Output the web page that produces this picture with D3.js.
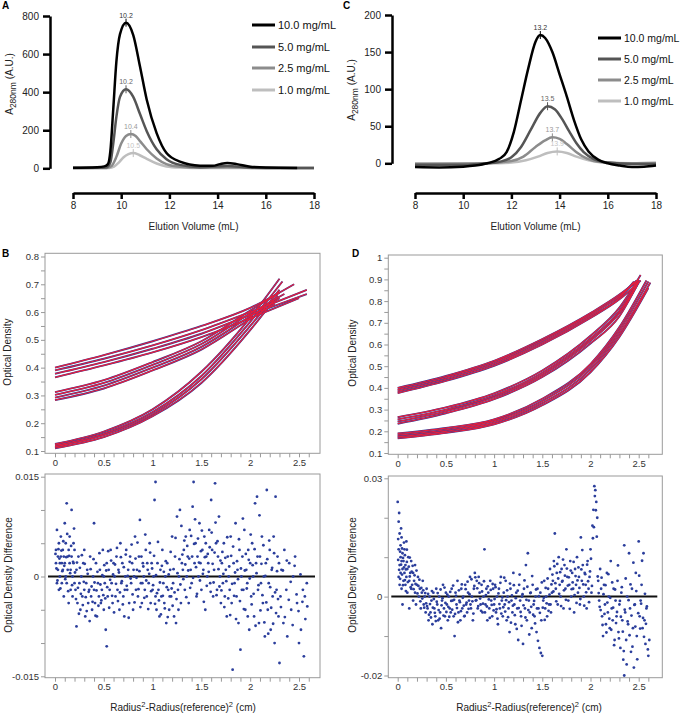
<!DOCTYPE html>
<html>
<head>
<meta charset="utf-8">
<script src="https://cdn.jsdelivr.net/npm/d3@7"></script>
<style>
  body { margin: 0; background: #fff; }
  svg { font-family: "Liberation Sans", Arial, Helvetica, sans-serif; }
</style>
</head>
<body>
<svg id="fig" width="683" height="714"></svg>
<script>
// Figure: SEC traces (A, C) and sedimentation-equilibrium fits with residuals (B, D)

// ---- data ----
const concLabels = ['10.0 mg/mL', '5.0 mg/mL', '2.5 mg/mL', '1.0 mg/mL'];
const elutionTicks = [8, 10, 12, 14, 16, 18];

// panel A: elution volume (mL) vs A280 (A.U.)
const traceA10 = [[8,3],[9,6],[9.3,10],[9.45,22],[9.55,90],[9.67,310],[9.8,560],[9.95,705],[10.2,765],[10.5,700],[10.78,535],[11.06,360],[11.47,185],[11.88,80],[12.44,35],[13.27,14],[13.8,13],[14.1,22],[14.4,28],[14.8,22],[15.3,10],[16,4],[17.3,2]];
const traceA5 = [[8,2],[9,3],[9.4,6],[9.55,30],[9.67,130],[9.8,270],[9.95,375],[10.2,415],[10.5,375],[10.78,285],[11.06,195],[11.47,100],[11.88,48],[12.44,18],[13.27,6],[14.4,12],[15.3,4],[16,2],[18,1]];
const traceA25 = [[8,1],[9.4,2],[9.6,12],[9.8,60],[10,130],[10.2,170],[10.4,180],[10.6,170],[10.8,140],[11.06,100],[11.47,52],[11.88,22],[12.44,8],[13.3,3],[14.4,5],[16,1],[18,1]];
const traceA1 = [[8,1],[9.5,1],[9.7,8],[9.9,30],[10.1,58],[10.3,74],[10.5,80],[10.75,70],[11.06,50],[11.47,25],[11.88,10],[12.44,4],[13.5,1],[18,1]];
const peaksA = [[10.2,765],[10.2,415],[10.4,180],[10.5,80]];
const peakLabelsA = ['10.2', '10.2', '10.4', '10.5'];
const yTicksA = [0, 200, 400, 600, 800];

// panel C
const traceC10 = [[8,-5],[9,-5.5],[10,-4.5],[10.5,-3],[11,0],[11.5,6],[11.8,15],[12.1,42],[12.4,85],[12.7,128],[13,164],[13.2,173],[13.4,169],[13.7,150],[14,120],[14.3,90],[14.6,58],[14.9,32],[15.2,16],[15.6,5],[16,0],[16.5,-3],[17,-5],[17.5,-4.5],[18,-3]];
const traceC5 = [[8,-2],[10,-2],[11,0],[11.5,2],[12,8],[12.4,22],[12.8,45],[13.2,68],[13.5,77],[13.8,73],[14.1,60],[14.4,43],[14.7,27],[15,15],[15.4,6],[16,1],[17,-1],[18,-1]];
const traceC25 = [[8,-1],[11,0],[12,3],[12.5,9],[13,22],[13.4,31],[13.7,35],[14,33],[14.3,26],[14.7,15],[15.1,7],[15.6,2],[16.5,0],[18,0]];
const traceC1 = [[8,0],[11,0],[12,1],[12.6,4],[13.1,9],[13.5,14],[13.9,16],[14.3,14],[14.7,9],[15.2,4],[15.8,1],[17,0],[18,1]];
const peaksC = [[13.2,173],[13.5,77],[13.7,35],[13.9,16]];
const peakLabelsC = ['13.2', '13.5', '13.7', '13.9'];
const yTicksC = [0, 50, 100, 150, 200];

// panel B: radius^2 - ref^2 (cm) vs optical density, scans per loading
const scansB = [
  [[0,0.400],[0.5,0.445],[1,0.495],[1.5,0.550],[2,0.615],[2.45,0.700]],
  [[0,0.390],[0.5,0.432],[1,0.480],[1.5,0.535],[2,0.600],[2.58,0.680]],
  [[0,0.378],[0.5,0.420],[1,0.468],[1.5,0.522],[2,0.590],[2.58,0.665]],
  [[0,0.365],[0.5,0.408],[1,0.455],[1.5,0.510],[2,0.578],[2.5,0.650]],
  [[0,0.312],[0.5,0.355],[1,0.420],[1.5,0.495],[2,0.605],[2.3,0.670]],
  [[0,0.302],[0.5,0.345],[1,0.410],[1.5,0.485],[2,0.595],[2.35,0.665]],
  [[0,0.292],[0.5,0.335],[1,0.400],[1.5,0.475],[2,0.585],[2.3,0.650]],
  [[0,0.283],[0.5,0.325],[1,0.390],[1.5,0.465],[2,0.575],[2.25,0.630]],
  [[0,0.125],[0.5,0.170],[1,0.250],[1.5,0.385],[2,0.580],[2.3,0.720]],
  [[0,0.120],[0.5,0.163],[1,0.240],[1.5,0.370],[2,0.565],[2.33,0.710]],
  [[0,0.115],[0.5,0.157],[1,0.232],[1.5,0.358],[2,0.550],[2.3,0.680]],
  [[0,0.110],[0.5,0.150],[1,0.225],[1.5,0.345],[2,0.535],[2.28,0.660]]
];
// panel D
const scansD = [
  [[0,0.400],[0.5,0.455],[1,0.525],[1.5,0.625],[2,0.745],[2.3,0.830],[2.5,0.900]],
  [[0,0.392],[0.5,0.448],[1,0.518],[1.5,0.617],[2,0.738],[2.3,0.822],[2.48,0.895]],
  [[0,0.384],[0.5,0.440],[1,0.510],[1.5,0.608],[2,0.730],[2.3,0.815],[2.45,0.890]],
  [[0,0.376],[0.5,0.432],[1,0.502],[1.5,0.600],[2,0.722],[2.3,0.808],[2.52,0.895]],
  [[0,0.265],[0.5,0.310],[1,0.375],[1.5,0.480],[2,0.640],[2.3,0.770],[2.52,0.920]],
  [[0,0.255],[0.5,0.300],[1,0.365],[1.5,0.470],[2,0.628],[2.3,0.755],[2.5,0.895]],
  [[0,0.245],[0.5,0.292],[1,0.357],[1.5,0.460],[2,0.617],[2.3,0.745],[2.5,0.885]],
  [[0,0.235],[0.5,0.283],[1,0.348],[1.5,0.450],[2,0.605],[2.3,0.730],[2.48,0.870]],
  [[0,0.190],[0.5,0.215],[1,0.255],[1.5,0.350],[2,0.510],[2.3,0.680],[2.58,0.895]],
  [[0,0.182],[0.5,0.207],[1,0.248],[1.5,0.340],[2,0.498],[2.3,0.665],[2.6,0.890]],
  [[0,0.175],[0.5,0.200],[1,0.240],[1.5,0.330],[2,0.485],[2.3,0.650],[2.62,0.885]],
  [[0,0.168],[0.5,0.193],[1,0.232],[1.5,0.320],[2,0.472],[2.3,0.635],[2.6,0.860]]
];

// residuals, in thousandths of OD
const residB = [
[0.01,2],[0.01,4],[0.02,-1],[0.02,7],[0.03,3],[0.03,1],[0.04,5],[0.04,-2],[0.05,2],[0.05,0],[0.06,3],[0.06,6],[0.07,-1],[0.07,2],[0.08,4],[0.08,1],[0.09,-3],[0.09,3],[0.1,2],[0.1,8],[0.11,0],[0.11,5],[0.12,11],[0.12,-1],[0.13,3],[0.13,1],[0.14,4],[0.14,-4],[0.15,2],[0.15,6],[0.16,-2],[0.16,1],[0.17,3],[0.17,10],[0.18,-3],[0.18,0],[0.19,5],[0.19,2],[0.2,-1],[0.2,4],
[0.21,-2],[0.22,-7.5],[0.22,1],[0.23,-4],[0.24,3],[0.25,-1],[0.26,-5],[0.27,0],[0.28,-3],[0.29,2],[0.3,-2],[0.3,4],[0.31,-6],[0.32,-1],[0.33,1],[0.34,-4],[0.35,-2],[0.36,3],[0.37,-3],[0.38,-5],[0.39,0],[0.4,8],[0.4,-2],[0.41,-4],[0.42,2],[0.43,-6],[0.44,-1],[0.45,-3],[0.46,1],[0.47,-4],[0.48,-2],[0.49,4],[0.5,-5],[0.5,0],
[0.51,-1],[0.52,-8],[0.53,-10.5],[0.53,2],[0.54,-3],[0.55,1],[0.56,-2],[0.57,4],[0.58,-1],[0.59,-4],[0.6,2],[0.61,0],[0.62,-3],[0.63,3],[0.64,-2],[0.65,1],[0.66,-5],[0.67,5],[0.68,-1],[0.69,2],[0.7,-3],[0.71,-6],[0.72,0],[0.73,4],[0.74,-2],[0.75,1],[0.76,-4],[0.77,3],[0.78,-1],[0.79,2],[0.8,-5],[0.81,0],[0.82,6],[0.83,-2],[0.84,1],[0.85,-3],[0.86,3],[0.87,8.5],[0.88,-1],[0.89,-4],[0.9,2],[0.91,0],[0.92,-2],[0.93,4],[0.94,-3],[0.95,1],[0.96,-1],[0.97,5],[0.98,-4],[0.99,2],[1.0,-2],
[1.01,0],[1.02,11.5],[1.03,14.2],[1.03,-3],[1.04,-5],[1.05,2],[1.06,-2],[1.07,-6],[1.08,1],[1.09,-3],[1.1,4],[1.11,-1],[1.12,-4],[1.13,0],[1.14,-7],[1.15,2],[1.16,-2],[1.17,-5],[1.18,1],[1.19,-3],[1.2,6],[1.21,-1],[1.22,-6],[1.23,3],[1.24,-7],[1.25,9],[1.26,-2],[1.27,0],[1.28,10],[1.29,-4],[1.3,2],
[1.31,1],[1.32,4],[1.33,-2],[1.34,6],[1.35,0],[1.36,3],[1.37,-4],[1.38,7],[1.39,1],[1.4,-1],[1.41,10.5],[1.42,14.2],[1.43,2],[1.44,5],[1.45,-3],[1.46,3],[1.47,0],[1.48,8],[1.49,2],[1.5,-2],[1.51,4],[1.52,1],[1.53,6],[1.54,-5],[1.55,3],[1.56,0],[1.57,2],[1.58,7],[1.59,-1],[1.6,11.5],[1.61,4],[1.62,-3],[1.63,1],[1.64,14],[1.65,5],[1.66,-2],[1.67,3],[1.68,9],[1.69,0],[1.7,-4],
[1.71,2],[1.72,-1],[1.73,5],[1.74,-3],[1.75,1],[1.76,-6],[1.77,3],[1.78,0],[1.79,-2],[1.8,6],[1.81,-4],[1.82,-14],[1.83,2],[1.84,-1],[1.85,8],[1.86,-3],[1.87,1],[1.88,-7],[1.89,4],[1.9,-11],[1.91,0],[1.92,3],[1.93,-2],[1.94,7],[1.95,-5],[1.96,1],[1.97,-1],[1.98,4],[1.99,-8],[2.0,2],[2.01,-3],[2.02,5],[2.03,0],[2.04,-6],[2.05,11],[2.06,2],[2.07,12],[2.08,-2],[2.09,-7],[2.1,3],[2.11,-1],[2.12,6],[2.13,-4],[2.14,0],[2.15,-9],[2.16,2],[2.17,13],[2.18,-5],[2.19,-1],[2.2,4],[2.21,-8],[2.22,1],[2.23,-3],[2.24,6],[2.25,-10],[2.26,12],[2.27,-2],[2.28,3],[2.29,-6],[2.3,-13],
[2.31,-3],[2.32,1],[2.34,-7],[2.35,4],[2.37,-2],[2.38,-9],[2.4,2],[2.42,-5],[2.44,0],[2.46,3],[2.48,-4],[2.5,-10],[2.52,-8],[2.54,-2],[2.55,-12],[2.56,-3],[2.58,-1]
];
const residB2 = [
[0.005,3.4],[0.015,1.2],[0.025,-0.6],[0.035,4.1],[0.045,2.7],[0.055,-1.8],[0.065,3.9],[0.075,0.8],[0.085,5.3],[0.095,1.6],[0.105,-0.4],[0.115,2.9],[0.125,6.4],[0.135,-2.2],[0.145,3.1],[0.155,0.5],[0.165,4.6],[0.175,-1.3],[0.185,2.2],[0.195,7.2],
[0.205,0.6],[0.215,-3.4],[0.225,2.1],[0.235,-1.7],[0.245,-5.6],[0.255,1.3],[0.265,-2.6],[0.275,3.2],[0.285,-4.3],[0.295,-0.8],[0.305,1.9],[0.315,-3.1],[0.325,-5.2],[0.335,0.4],[0.345,-2.3],[0.355,-6.7],[0.365,1.1],[0.375,-1.5],[0.385,-3.8],[0.395,2.6],[0.405,-0.9],[0.415,-5.9],[0.425,-2.1],[0.435,0.7],[0.445,-4.4],[0.455,3.5],[0.465,-1.2],[0.475,-3.6],[0.485,0.2],[0.495,-2.8],
[0.505,1.7],[0.515,-3.3],[0.525,0.9],[0.535,-1.6],[0.545,3.8],[0.555,-4.7],[0.565,-0.5],[0.575,2.4],[0.585,-2.9],[0.595,0.3],[0.605,-5.4],[0.615,1.8],[0.625,-1.1],[0.635,4.3],[0.645,-3.7],[0.655,0.6],[0.665,-2.4],[0.675,2.9],[0.685,-0.7],[0.695,-4.2],[0.705,1.4],[0.715,-2.0],[0.725,3.3],[0.735,-1.4],[0.745,0.1],[0.755,-6.2],[0.765,2.2],[0.775,-0.3],[0.785,4.8],[0.795,-2.7],[0.805,1.0],[0.815,-3.9],[0.825,2.7],[0.835,-0.2],[0.845,5.1],[0.855,-1.9],[0.865,0.8],[0.875,-4.6],[0.885,3.0],[0.895,-1.0],[0.905,1.5],[0.915,-3.2],[0.925,6.3],[0.935,-0.6],[0.945,2.0],[0.955,-4.9],[0.965,0.4],[0.975,3.6],[0.985,-2.2],[0.995,1.2],
[1.005,-1.3],[1.015,3.1],[1.025,-4.1],[1.035,0.2],[1.045,-2.5],[1.055,5.2],[1.065,-3.6],[1.075,-0.9],[1.085,-5.7],[1.095,1.6],[1.105,-2.9],[1.115,0.7],[1.125,-4.8],[1.135,2.3],[1.145,-1.6],[1.155,-6.1],[1.165,0.3],[1.175,-3.0],[1.185,3.7],[1.195,-1.8],[1.205,-4.4],[1.215,1.1],[1.225,-2.4],[1.235,5.8],[1.245,-3.4],[1.255,0.5],[1.265,-5.0],[1.275,2.6],[1.285,-1.2],[1.295,7.6],
[1.305,3.3],[1.315,-0.4],[1.325,5.4],[1.335,1.8],[1.345,-3.1],[1.355,4.6],[1.365,0.9],[1.375,2.7],[1.385,-1.7],[1.395,6.1],[1.405,3.0],[1.415,-0.2],[1.425,4.9],[1.435,8.6],[1.445,1.4],[1.455,-2.6],[1.465,5.7],[1.475,2.1],[1.485,-0.6],[1.495,3.8],[1.505,6.9],[1.515,0.4],[1.525,-3.8],[1.535,2.9],[1.545,5.0],[1.555,-1.4],[1.565,3.4],[1.575,0.7],[1.585,4.4],[1.595,-2.3],[1.605,6.6],[1.615,1.9],[1.625,-0.9],[1.635,3.6],[1.645,8.1],[1.655,-2.8],[1.665,5.3],[1.675,1.1],[1.685,-1.5],[1.695,2.4],
[1.705,-2.1],[1.715,3.7],[1.725,0.4],[1.735,-4.6],[1.745,2.8],[1.755,-0.7],[1.765,5.9],[1.775,-3.3],[1.785,1.5],[1.795,-5.8],[1.805,3.1],[1.815,-1.1],[1.825,4.5],[1.835,-2.9],[1.845,0.6],[1.855,-6.4],[1.865,2.3],[1.875,-0.4],[1.885,5.6],[1.895,-3.7],[1.905,1.2],[1.915,-2.0],[1.925,8.7],[1.935,-4.9],[1.945,0.9],[1.955,3.4],[1.965,-1.8],[1.975,-6.0],[1.985,2.5],[1.995,-0.3],[2.005,6.3],[2.015,-4.2],[2.025,1.7],[2.035,-2.6],[2.045,4.1],[2.055,-7.4],[2.065,0.5],[2.075,3.0],[2.085,-1.3],[2.095,9.2],[2.105,-5.1],[2.115,1.9],[2.125,-2.8],[2.135,4.7],[2.145,-6.9],[2.155,0.1],[2.165,-3.9],[2.175,2.6],[2.185,-8.6],[2.195,5.4],[2.205,-1.6],[2.215,-4.7],[2.225,1.3],[2.235,-7.1],[2.245,3.5],[2.255,-2.4],[2.265,-5.5],[2.275,0.8],[2.285,-3.4],[2.295,2.0],
[2.315,-4.6],[2.335,0.9],[2.355,-6.1],[2.375,2.4],[2.395,-3.5],[2.415,-0.8],[2.435,-7.3],[2.455,1.6],[2.475,-2.7],[2.495,-5.2],[2.515,0.3],[2.535,-3.8],[2.565,-6.4],[2.585,-4.5]
];
const residD = [
[0.0,24],[0.01,5],[0.01,12],[0.01,19],[0.02,8],[0.02,3],[0.02,16],[0.03,10],[0.03,6],[0.03,13],[0.04,2],[0.04,9],[0.04,15],[0.05,7],[0.05,11],[0.05,-2],[0.06,4],[0.06,9],[0.07,12],[0.07,6],[0.08,3],[0.08,8],[0.09,14],[0.09,5],[0.1,1],[0.1,7],[0.11,10],[0.12,4],[0.12,-3],[0.13,6],[0.14,2],[0.14,9],[0.15,3],[0.16,-1],[0.16,6],[0.17,4],[0.18,1],[0.18,8],[0.19,-2],[0.2,3],[0.21,5],[0.22,0],[0.23,2],[0.24,-3],[0.25,1],[0.26,4],[0.27,-2],[0.28,0],[0.29,-4],[0.3,2],
[0.31,-3],[0.32,-6],[0.33,0],[0.34,-4],[0.35,-1],[0.36,-7],[0.37,1],[0.38,-3],[0.39,-5],[0.4,2],[0.41,-2],[0.42,-6],[0.43,0],[0.44,-4],[0.45,-8],[0.46,-1],[0.47,3],[0.48,-3],[0.49,-5],[0.5,1],[0.51,-2],[0.52,-6],[0.53,0],[0.54,-3],[0.55,-4],[0.56,2],[0.57,-1],[0.58,-5],[0.59,-10],[0.6,1],[0.61,-2],[0.62,4],[0.63,-4],[0.64,-1],[0.65,-6],[0.66,2],[0.67,-3],[0.68,0],[0.69,-5],[0.7,3],[0.71,-2],[0.72,-4],[0.73,1],[0.74,-1],[0.75,5],[0.76,-3],[0.77,0],[0.78,-6],[0.79,2],[0.8,6],[0.81,-1],[0.82,4],[0.83,-3],[0.84,5],[0.85,1],[0.86,-2],[0.87,3],[0.88,-4],[0.89,0],[0.9,12],[0.91,-2],[0.92,2],[0.93,-6],[0.94,1],[0.95,-3],[0.96,4],[0.97,-1],[0.98,-5],[0.99,2],[1.0,-2],
[1.01,3],[1.02,-4],[1.03,0],[1.04,-7],[1.05,2],[1.06,-3],[1.07,5],[1.08,-1],[1.09,-5],[1.1,1],[1.11,-2],[1.12,4],[1.13,-6],[1.14,0],[1.15,-3],[1.16,-9],[1.17,2],[1.18,-1],[1.19,-4],[1.2,6],[1.21,-2],[1.22,-7],[1.23,1],[1.24,-3],[1.25,-11],[1.26,3],[1.27,-1],[1.28,-5],[1.29,0],[1.3,-12],[1.31,2],[1.32,-3],[1.33,8],[1.34,-6],[1.35,11],[1.36,-1],[1.37,-4],[1.38,1],[1.39,-8],[1.4,3],[1.41,-2],[1.42,-5],[1.43,0],[1.44,-9],[1.45,2],[1.46,-3],[1.47,-13],[1.48,1],[1.49,-6],[1.5,-15],[1.51,-1],[1.52,4],[1.53,-3],[1.54,0],[1.55,-5],[1.56,2],[1.57,-2],[1.58,7],[1.59,-4],[1.6,1],
[1.61,4],[1.62,9],[1.63,16],[1.64,2],[1.65,6],[1.66,-2],[1.67,10],[1.68,3],[1.69,0],[1.7,7],[1.71,4],[1.72,-3],[1.73,8],[1.74,2],[1.75,12],[1.76,5],[1.77,-1],[1.78,3],[1.79,9],[1.8,0],[1.81,6],[1.82,2],[1.83,-4],[1.84,7],[1.85,3],[1.86,10],[1.87,1],[1.88,5],[1.89,-2],[1.9,15],[1.91,4],[1.92,8],[1.93,0],[1.94,6],[1.95,3],[1.96,-3],[1.97,9],[1.98,2],[1.99,5],[2.0,12],[2.01,1],[2.02,18],[2.03,22],[2.04,28],[2.05,27],[2.06,24],[2.07,20],[2.08,4],[2.09,-1],[2.1,7],
[2.11,2],[2.12,-5],[2.13,-10],[2.14,3],[2.15,-2],[2.16,-7],[2.17,6],[2.18,-4],[2.19,0],[2.2,-8],[2.21,9],[2.22,-3],[2.23,-6],[2.24,2],[2.25,-11],[2.26,-1],[2.27,-5],[2.28,4],[2.29,-9],[2.3,-2],[2.31,-13],[2.32,1],[2.33,-6],[2.34,-16],[2.35,13],[2.35,-20],[2.36,-4],[2.37,-11],[2.38,0],[2.39,-7],[2.4,11],[2.41,-3],[2.42,-14],[2.43,2],[2.44,-8],[2.45,-18],[2.46,-2],[2.47,6],[2.48,-10],[2.5,14],[2.51,-5],[2.52,-1],[2.53,3],[2.54,-8],[2.55,11],[2.56,-6],[2.57,-12],[2.58,-3],[2.6,-15],[2.61,-11]
];
const residD2 = [
[0.005,9.3],[0.005,14.6],[0.015,6.8],[0.015,21.2],[0.025,11.4],[0.025,4.5],[0.035,8.1],[0.035,17.3],[0.045,5.6],[0.045,12.2],[0.055,9.8],[0.055,2.9],[0.065,7.4],[0.065,13.7],[0.075,4.2],[0.075,10.5],[0.085,6.9],[0.085,1.4],[0.095,8.8],[0.095,11.9],[0.105,3.7],[0.115,7.6],[0.125,5.1],[0.125,9.9],[0.135,2.4],[0.145,6.3],[0.155,7.8],[0.165,1.9],[0.175,5.4],[0.185,3.2],[0.195,6.6],[0.205,0.8],[0.215,2.7],[0.225,4.3],[0.235,-1.2],[0.245,2.2],[0.255,-0.5],[0.265,1.6],[0.275,-2.8],[0.285,0.9],[0.295,-1.7],
[0.305,-2.4],[0.315,0.7],[0.325,-4.6],[0.335,-1.9],[0.345,-5.3],[0.355,1.4],[0.365,-2.8],[0.375,-0.6],[0.385,-4.1],[0.395,-6.2],[0.405,-1.3],[0.415,0.9],[0.425,-3.4],[0.435,-5.6],[0.445,1.8],[0.455,-2.2],[0.465,-0.4],[0.475,-4.8],[0.485,2.3],[0.495,-1.6],[0.505,-3.9],[0.515,0.5],[0.525,-2.6],[0.535,-5.1],[0.545,1.2],[0.555,-1.1],[0.565,-3.3],[0.575,2.8],[0.585,-0.8],[0.595,-4.4],[0.605,0.2],[0.615,-2.9],[0.625,-6.5],[0.635,1.6],[0.645,-1.4],[0.655,-3.7],[0.665,3.1],[0.675,-0.3],[0.685,-2.3],[0.695,-4.9],[0.705,1.9],[0.715,-1.5],[0.725,3.8],[0.735,-3.1],[0.745,0.6],[0.755,-2.0],[0.765,4.4],[0.775,-1.2],[0.785,-4.3],[0.795,2.7],[0.805,4.9],[0.815,-0.9],[0.825,2.1],[0.835,-2.4],[0.845,3.4],[0.855,-0.5],[0.865,-3.6],[0.875,1.3],[0.885,-1.8],[0.895,3.9],[0.905,-4.0],[0.915,0.4],[0.925,-2.5],[0.935,2.6],[0.945,-0.7],[0.955,-5.4],[0.965,1.7],[0.975,-2.1],[0.985,3.2],[0.995,-3.5],
[1.005,-0.6],[1.015,2.4],[1.025,-3.2],[1.035,-5.6],[1.045,0.8],[1.055,-1.9],[1.065,3.5],[1.075,-4.3],[1.085,-0.2],[1.095,-2.7],[1.105,4.8],[1.115,-3.8],[1.125,-0.9],[1.135,1.6],[1.145,-5.2],[1.155,-1.4],[1.165,3.3],[1.175,-6.6],[1.185,0.3],[1.195,-2.3],[1.205,2.9],[1.215,-4.7],[1.225,-0.4],[1.235,-8.2],[1.245,1.5],[1.255,-2.9],[1.265,5.6],[1.275,-3.9],[1.285,-7.4],[1.295,0.6],[1.305,-2.2],[1.315,4.1],[1.325,-5.3],[1.335,-0.8],[1.345,2.5],[1.355,-3.4],[1.365,-9.6],[1.375,0.9],[1.385,-2.6],[1.395,5.2],[1.405,-4.6],[1.415,-1.1],[1.425,-6.8],[1.435,1.8],[1.445,-3.0],[1.455,-11.2],[1.465,0.1],[1.475,-4.1],[1.485,-14.3],[1.495,3.6],[1.505,-2.8],[1.515,-0.3],[1.525,-5.9],[1.535,2.2],[1.545,-1.7],[1.555,4.6],[1.565,-3.6],[1.575,0.5],[1.585,-2.0],[1.595,3.1],
[1.605,5.6],[1.615,1.3],[1.625,7.7],[1.635,3.4],[1.645,-1.2],[1.655,8.3],[1.665,4.6],[1.675,0.7],[1.685,6.2],[1.695,-2.4],[1.705,3.8],[1.715,9.4],[1.725,1.6],[1.735,5.3],[1.745,-0.8],[1.755,7.1],[1.765,2.8],[1.775,4.9],[1.785,-3.1],[1.795,6.6],[1.805,1.9],[1.815,3.6],[1.825,8.8],[1.835,0.4],[1.845,5.2],[1.855,-1.6],[1.865,4.1],[1.875,7.4],[1.885,2.2],[1.895,-0.6],[1.905,6.9],[1.915,11.8],[1.925,3.1],[1.935,-2.3],[1.945,5.7],[1.955,1.1],[1.965,8.1],[1.975,3.9],[1.985,-1.4],[1.995,6.4],[2.005,9.6],[2.015,2.7],[2.025,14.8],[2.035,17.6],[2.045,25.5],[2.055,21.9],[2.065,15.2],[2.075,5.1],[2.085,0.9],[2.095,-2.6],
[2.105,-3.4],[2.115,4.8],[2.125,-7.2],[2.135,0.6],[2.145,-4.4],[2.155,2.9],[2.165,-9.1],[2.175,-1.5],[2.185,5.7],[2.195,-5.6],[2.205,-0.3],[2.215,-8.4],[2.225,3.6],[2.235,-2.8],[2.245,-12.3],[2.255,1.8],[2.265,-6.7],[2.275,-3.9],[2.285,7.9],[2.295,-10.6],[2.305,-1.1],[2.315,-5.1],[2.325,2.4],[2.335,-8.9],[2.345,-13.8],[2.355,-3.3],[2.365,4.6],[2.375,-17.2],[2.385,-6.3],[2.395,-0.9],[2.405,-9.8],[2.415,3.1],[2.425,-4.8],[2.435,-12.7],[2.445,8.6],[2.455,-2.1],[2.465,-7.6],[2.475,1.4],[2.485,-15.9],[2.495,-4.2],[2.505,5.3],[2.515,-8.1],[2.525,-1.8],[2.535,9.1],[2.545,-5.4],[2.555,-10.2],[2.565,0.7],[2.575,-6.9],[2.585,-2.5],[2.595,-13.4]
];

const radiusLabels = [0, 0.5, 1, 1.5, 2, 2.5];
const odLabelsB = [0.1, 0.2, 0.3, 0.4, 0.5, 0.6, 0.7, 0.8];
const odLabelsD = [0.1, 0.2, 0.3, 0.4, 0.5, 0.6, 0.7, 0.8, 0.9, 1];
const resLabelsB = [-0.015, 0, 0.015];
const resLabelsD = [-0.02, 0, 0.03];

// ---- drawing ----
const svg = d3.select('#fig');
const greys = ['#000000', '#555555', '#8c8c8c', '#bebebe'];
const peakText = ['#333', '#666', '#999', '#c4c4c4'];
const blue = '#2b3e9c', red = '#e61e3c';
const FONT = '"Liberation Sans", Arial, sans-serif';

function rotLabel(x, y, parts) {
  const t = svg.append('text').attr('transform', `translate(${x},${y}) rotate(-90)`)
    .attr('text-anchor', 'middle').attr('font-size', 10).attr('fill', '#222');
  parts.forEach(p => {
    const s = t.append('tspan').text(p.t);
    if (p.dy) s.attr('dy', p.dy);
    if (p.fs) s.attr('font-size', p.fs);
  });
  return t;
}

function letter(x, y, s) {
  svg.append('text').attr('x', x).attr('y', y).attr('font-size', 10)
    .attr('font-weight', 'bold').text(s);
}

function chromPanel(o) {
  const x = d3.scaleLinear().domain([8, 18]).range(o.xr);
  const y = d3.scaleLinear().domain([0, o.yTicks[o.yTicks.length - 1]]).range(o.yr);
  const g = svg.append('g');

  const ya = g.append('g').attr('transform', `translate(${o.axisX},0)`)
    .call(d3.axisLeft(y).tickValues(o.yTicks).tickSize(7).tickSizeOuter(0).tickPadding(4));
  ya.select('.domain').attr('stroke-width', 2.5);
  ya.selectAll('.tick line').attr('stroke-width', 2.5);
  ya.selectAll('text').attr('font-size', 10).attr('fill', '#222').attr('font-family', FONT);

  const xa = g.append('g').attr('transform', 'translate(0,193)')
    .call(d3.axisBottom(x).tickValues(elutionTicks).tickSize(6).tickSizeOuter(0).tickPadding(3));
  xa.select('.domain').attr('stroke-width', 2.5);
  xa.selectAll('.tick line').attr('stroke-width', 2.5);
  xa.selectAll('text').attr('font-size', 10).attr('fill', '#222').attr('font-family', FONT);

  const line = d3.line().x(d => x(d[0])).y(d => y(d[1])).curve(d3.curveMonotoneX);
  for (let i = o.traces.length - 1; i >= 0; i--) {
    g.append('path').datum(o.traces[i]).attr('d', line).attr('fill', 'none')
      .attr('stroke', greys[i]).attr('stroke-width', 2.5).attr('stroke-linejoin', 'round');
  }
  o.peaks.forEach((p, i) => {
    g.append('line').attr('x1', x(p[0])).attr('x2', x(p[0]))
      .attr('y1', y(p[1]) - 4).attr('y2', y(p[1]) + 4)
      .attr('stroke', greys[i]).attr('stroke-width', 1);
    g.append('text').attr('x', x(p[0])).attr('y', y(p[1]) - 5)
      .attr('text-anchor', 'middle').attr('font-size', 7).attr('fill', peakText[i])
      .text(o.peakLabels[i]);
  });

  concLabels.forEach((c, i) => {
    const ly = o.legY[i];
    g.append('line').attr('x1', o.legX).attr('x2', o.legX + 23).attr('y1', ly).attr('y2', ly)
      .attr('stroke', greys[i]).attr('stroke-width', 3);
    g.append('text').attr('x', o.legX + 26).attr('y', ly).attr('dy', '0.35em')
      .attr('font-size', o.legFont).attr('fill', '#111').text(c);
  });

  g.append('text').attr('x', (o.xr[0] + o.xr[1]) / 2).attr('y', 230)
    .attr('text-anchor', 'middle').attr('font-size', 10).attr('fill', '#222')
    .text('Elution Volume (mL)');
}

function boxAxes(g, o) {
  g.append('rect').attr('x', o.x0).attr('y', o.y0).attr('width', o.x1 - o.x0)
    .attr('height', o.y1 - o.y0).attr('fill', 'none').attr('stroke', '#9a9a9a');
  const lab = (labs, d) => labs.find(v => Math.abs(v - d) < 1e-9);
  const xa = g.append('g').attr('transform', `translate(0,${o.y1})`)
    .call(d3.axisBottom(o.x).tickValues(d3.range(0, 27).map(i => i / 10))
      .tickSize(4).tickPadding(2)
      .tickFormat(d => { const v = lab(radiusLabels, d); return v === undefined ? '' : String(v); }));
  const ya = g.append('g').attr('transform', `translate(${o.x0},0)`)
    .call(d3.axisLeft(o.y).tickValues(o.yMinor).tickSize(4).tickPadding(2)
      .tickFormat(d => { const v = lab(o.yLabels, d); return v === undefined ? '' : String(v); }));
  [xa, ya].forEach(a => {
    a.select('.domain').remove();
    a.selectAll('.tick line').attr('stroke', '#999');
    a.selectAll('text').attr('font-size', 9.5).attr('fill', '#333').attr('font-family', FONT);
  });
}

function scanPanel(o) {
  const g = svg.append('g');
  boxAxes(g, o);
  const line = d3.line().x(d => o.x(d[0])).y(d => o.y(d[1])).curve(d3.curveMonotoneX);
  o.scans.forEach(s => {
    g.append('path').datum(s).attr('d', line).attr('fill', 'none')
      .attr('stroke', blue).attr('stroke-width', 1.9);
  });
  o.scans.forEach(s => {
    g.append('path').datum(s).attr('d', line).attr('fill', 'none')
      .attr('stroke', red).attr('stroke-width', 1.2);
  });
}

function residPanel(o) {
  const g = svg.append('g');
  boxAxes(g, o);
  g.append('line').attr('x1', o.x0 + 3).attr('x2', o.x1 - 5)
    .attr('y1', o.y(0)).attr('y2', o.y(0)).attr('stroke', '#111').attr('stroke-width', 2);
  g.append('g').selectAll('circle').data(o.resid).join('circle')
    .attr('cx', d => o.x(d[0])).attr('cy', d => o.y(d[1] / 1000))
    .attr('r', 1.4).attr('fill', blue);
}

// A
chromPanel({ xr: [73, 314], yr: [168.3, 16], axisX: 50, yTicks: yTicksA,
  traces: [traceA10, traceA5, traceA25, traceA1], peaks: peaksA, peakLabels: peakLabelsA,
  legX: 252, legY: [25, 47, 68, 90], legFont: 11 });
// C
chromPanel({ xr: [415, 656], yr: [163.3, 15], axisX: 392, yTicks: yTicksC,
  traces: [traceC10, traceC5, traceC25, traceC1], peaks: peaksC, peakLabels: peakLabelsC,
  legX: 598, legY: [38, 59, 80, 101], legFont: 10.5 });

const xB = d3.scaleLinear().domain([0, 2.5]).range([55, 299]);
const xD = d3.scaleLinear().domain([0, 2.5]).range([397.7, 638.7]);

scanPanel({ x: xB, y: d3.scaleLinear().domain([0.1, 0.8]).range([451, 256.5]),
  x0: 45, x1: 320, y0: 253.3, y1: 453.3, scans: scansB,
  yMinor: d3.range(2, 17).map(i => i * 0.05), yLabels: odLabelsB });
residPanel({ x: xB, y: d3.scaleLinear().domain([-0.015, 0.015]).range([676.3, 476.7]),
  x0: 45, x1: 320, y0: 474, y1: 677.7, resid: residB.concat(residB2),
  yMinor: d3.range(-3, 4).map(i => i * 0.005), yLabels: resLabelsB });

scanPanel({ x: xD, y: d3.scaleLinear().domain([0.1, 1]).range([453, 257.7]),
  x0: 388.3, x1: 662.3, y0: 255, y1: 454.3, scans: scansD,
  yMinor: d3.range(2, 21).map(i => i * 0.05), yLabels: odLabelsD });
residPanel({ x: xD, y: d3.scaleLinear().domain([-0.02, 0.03]).range([675.5, 478.3]),
  x0: 388.3, x1: 662.3, y0: 476, y1: 677.7, resid: residD.concat(residD2),
  yMinor: d3.range(-2, 4).map(i => i * 0.01), yLabels: resLabelsD });

// axis titles
const a280 = [{ t: 'A' }, { t: '280nm', dy: 3, fs: 8.5 }, { t: ' (A.U.)', dy: -3 }];
rotLabel(13, 84, a280);
rotLabel(355, 90, a280);
rotLabel(11, 352, [{ t: 'Optical Density' }]);
rotLabel(356, 353, [{ t: 'Optical Density' }]);
rotLabel(12, 575, [{ t: 'Optical Density Difference' }]);
rotLabel(356, 575, [{ t: 'Optical Density Difference' }]);

function radiusTitle(cx) {
  const t = svg.append('text').attr('x', cx).attr('y', 711).attr('text-anchor', 'middle')
    .attr('font-size', 10).attr('fill', '#222');
  t.append('tspan').text('Radius');
  t.append('tspan').attr('dy', -4).attr('font-size', 7.5).text('2');
  t.append('tspan').attr('dy', 4).text('-Radius(reference)');
  t.append('tspan').attr('dy', -4).attr('font-size', 7.5).text('2');
  t.append('tspan').attr('dy', 4).text(' (cm)');
}
radiusTitle(183);
radiusTitle(529);

letter(2, 9, 'A');
letter(343, 9, 'C');
letter(2, 257, 'B');
letter(352, 257, 'D');
</script>
</body>
</html>
